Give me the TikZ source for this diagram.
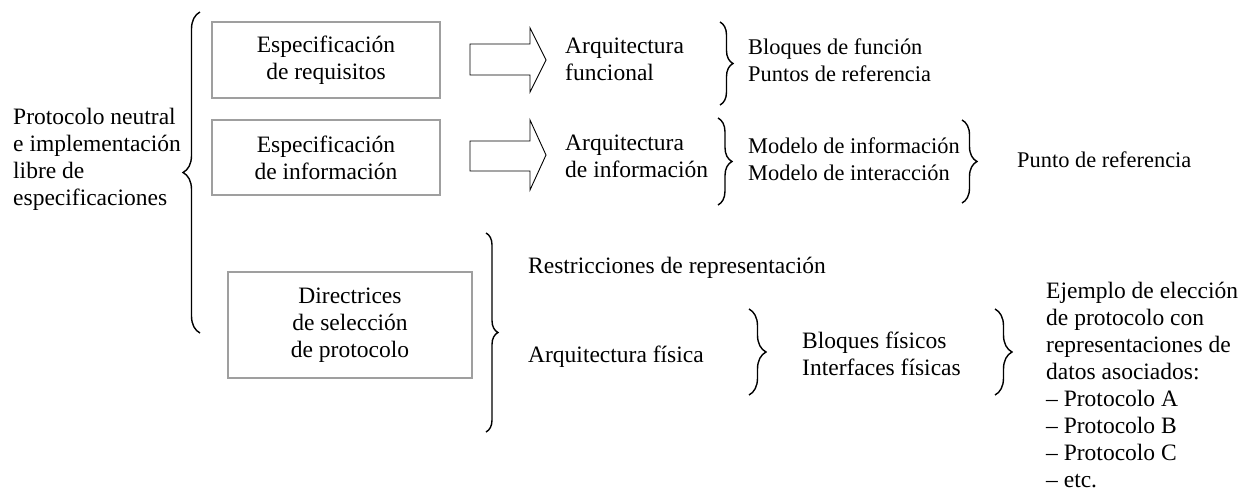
\documentclass[tikz,border=0pt]{standalone}
\usepackage{fontspec}
\setmainfont{Liberation Serif}
\usetikzlibrary{decorations.pathreplacing}
\begin{document}
\begin{tikzpicture}[x=1pt,y=-1pt,
  txt/.style={font=\fontsize{23.5}{27}\selectfont, inner sep=0pt, align=left, anchor=west},
  txtn/.style={txt, font=\fontsize{22.4}{26.5}\selectfont},
  boxc/.style={draw=gray!75, line width=1.4pt, font=\fontsize{23.5}{27}\selectfont, align=center, inner sep=0pt},
  curly/.style={decorate, decoration={brace, amplitude=#1}, line width=1.4pt},
  blockarrow/.style={draw=black, line width=0.9pt, fill=white, line join=miter}]
\useasboundingbox (0,0) rectangle (1255,491);

% boxes
\node[boxc, minimum width=228pt, minimum height=76pt] (req) at (326,60) {Especificación\\de requisitos};
\node[boxc, minimum width=228pt, minimum height=75pt] (inf) at (326,157.5) {Especificación\\de información};
\node[boxc, minimum width=244pt, minimum height=106pt] (dir) at (350,325) {Directrices\\de selección\\de protocolo};

% block arrows
\draw[blockarrow] (470,44) -- (530,44) -- (530,28) -- (546,60) -- (530,92) -- (530,75) -- (470,75) -- cycle;
\draw[blockarrow] (470,141) -- (530,141) -- (530,120) -- (546,155) -- (530,190) -- (530,171) -- (470,171) -- cycle;

% texts
\node[txt] (pn) at (13,159) {Protocolo neutral\\e implementación\\libre de\\especificaciones};
\node[txt] (af) at (565,59) {Arquitectura\\funcional};
\node[txt] (ai) at (565,156) {Arquitectura\\de información};
\node[txtn] (bf) at (748,60) {Bloques de función\\Puntos de referencia};
\node[txtn] (mi) at (748,159) {Modelo de información\\Modelo de interacción};
\node[txtn] (pr) at (1017,160) {Punto de referencia};
\node[txt] (rr) at (528,268) {Restricciones de representación};
\node[txt] (afis) at (528,357) {Arquitectura física};
\node[txt] (bfis) at (802,354) {Bloques físicos\\Interfaces físicas};
\node[txt] (ej) at (1046,385) {Ejemplo de elección\\de protocolo con\\representaciones de\\datos asociados:\\-- Protocolo A\\-- Protocolo B\\-- Protocolo C\\-- etc.};

% braces
\draw[curly=17pt] (200,333) -- (200,12);
\draw[curly=13pt] (720,22) -- (720,105);
\draw[curly=14pt] (718,118) -- (718,205);
\draw[curly=15pt] (962,120) -- (962,203);
\draw[curly=12pt] (486,233) -- (486,432);
\draw[curly=17pt] (749,309) -- (749,395);
\draw[curly=17pt] (995,309) -- (995,395);
\end{tikzpicture}
\end{document}
